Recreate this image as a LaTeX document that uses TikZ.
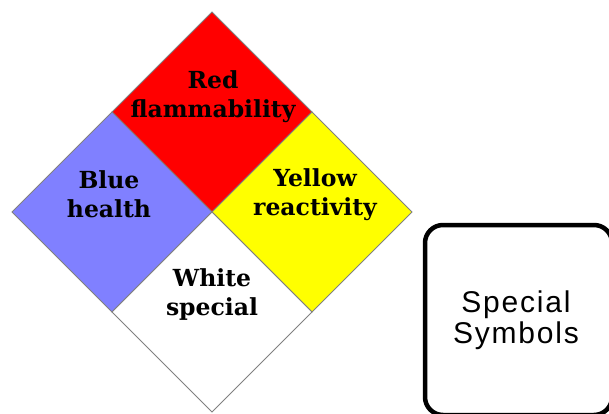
\documentclass[tikz,border=0pt]{standalone}
\usepackage{fontspec}
\setmainfont{DejaVu Serif}
\newfontfamily\boxfont[LetterSpace=6]{Liberation Sans}
\definecolor{nfpared}{HTML}{FF0000}
\definecolor{nfpablue}{HTML}{8080FF}
\definecolor{nfpayellow}{HTML}{FFFF00}
\definecolor{edgegray}{HTML}{808080}
\begin{document}
\begin{tikzpicture}[x=1pt,y=-1pt,
  quad/.style={draw=edgegray,line width=1pt,line join=miter},
  label/.style={font=\fontsize{23.5}{29}\selectfont\bfseries,align=center,inner sep=0pt,anchor=base},
  symbox/.style={draw=black,line width=4.5pt,rounded corners=18pt},
  symtext/.style={font=\fontsize{30}{31}\selectfont\boxfont,align=center,inner sep=0pt,anchor=base}]
\useasboundingbox (0,0) rectangle (609,414);
\clip (0,0) rectangle (609,414);
% diamond corners
\coordinate (T) at (212,12);
\coordinate (L) at (12,212);
\coordinate (R) at (412,212);
\coordinate (B) at (212,412);
\coordinate (C) at (212,212);
\coordinate (TL) at (112,112);
\coordinate (TR) at (312,112);
\coordinate (BL) at (112,312);
\coordinate (BR) at (312,312);
% quadrants
\filldraw[quad,fill=nfpared] (T) -- (TR) -- (C) -- (TL) -- cycle;
\filldraw[quad,fill=nfpablue] (TL) -- (C) -- (BL) -- (L) -- cycle;
\filldraw[quad,fill=nfpayellow] (TR) -- (R) -- (BR) -- (C) -- cycle;
\filldraw[quad,fill=white] (C) -- (BR) -- (B) -- (BL) -- cycle;
% labels (anchor base = baseline of last line)
\node[label] (red) at (213,118) {Red\\flammability};
\node[label] (blue) at (109,217) {Blue\\health};
\node[label] (yellow) at (315,215) {Yellow\\reactivity};
\node[label] (white) at (212,315) {White\\special};
% special symbols box
\draw[symbox] (425,225) rectangle (612,415);
\node[symtext] (sym) at (516,343) {Special\\Symbols};
\end{tikzpicture}
\end{document}
